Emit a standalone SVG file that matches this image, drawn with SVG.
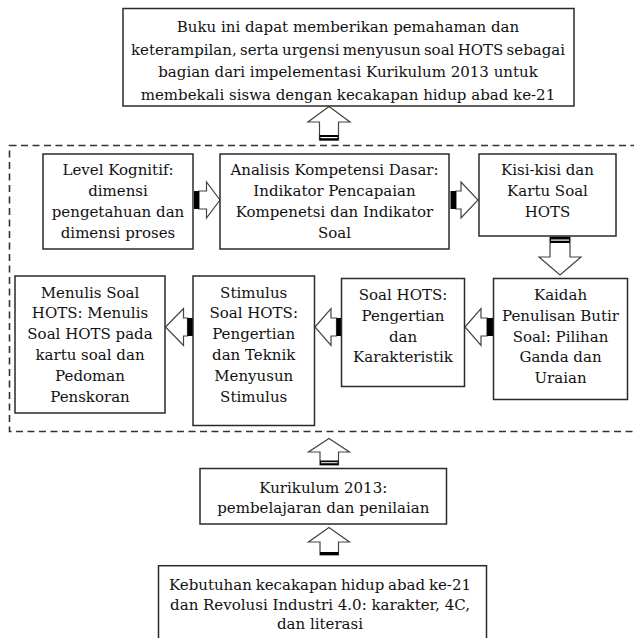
<svg xmlns="http://www.w3.org/2000/svg" width="634" height="638" viewBox="0 0 634 638">
<style>
.box{fill:#fff;stroke:#2a2a2a;stroke-width:1.5}
.t{font-family:"DejaVu Serif","Liberation Serif",serif;font-size:15px;fill:#111;text-anchor:middle}
.arr{fill:#fff;stroke:#444;stroke-width:1.2;stroke-linejoin:miter}
.bar{fill:#000}
.dash{fill:none;stroke:#333;stroke-width:1.6;stroke-dasharray:7 4.5}
</style>
<rect width="634" height="638" fill="#fff"/>
<rect class="dash" x="9.5" y="145.5" width="640" height="286"/>

<g id="connectors">
  <polygon class="arr" points="329,106.5 350,122 338.5,122 338.5,140 319.5,140 319.5,122 308,122"/>
  <rect class="bar" x="319.5" y="135" width="19" height="5.5"/>
  <rect fill="#fff" x="320.5" y="137" width="17" height="1.2"/>
  <polygon class="arr" points="199,191 206.5,191 206.5,182 220,200 206.5,218 206.5,209 199,209"/>
  <rect class="bar" x="194" y="191" width="5" height="18"/>
  <polygon class="arr" points="456,191 461,191 461,182 478,200 461,218 461,209 456,209"/>
  <rect class="bar" x="450.5" y="191" width="5.5" height="18"/>
  <polygon class="arr" points="550,237 570,237 570,257 581,257 560,275 539,257 550,257"/>
  <rect class="bar" x="550" y="237" width="20" height="6"/>
  <rect fill="#fff" x="551" y="239.5" width="18" height="1.2"/>
  <polygon class="arr" points="465,327 481,308.5 481,318 487,318 487,336 481,336 481,345.5"/>
  <rect class="bar" x="487" y="318" width="6" height="18"/>
  <polygon class="arr" points="315,327 331,308.5 331,318 336.5,318 336.5,336 331,336 331,345.5"/>
  <rect class="bar" x="336.5" y="318" width="5" height="18"/>
  <polygon class="arr" points="165.5,327 183.5,308.5 183.5,318 187.5,318 187.5,336 183.5,336 183.5,345.5"/>
  <rect class="bar" x="187.5" y="318" width="5.5" height="18"/>
  <polygon class="arr" points="329,438.5 349.5,452 338.5,452 338.5,465 320,465 320,452 308.5,452"/>
  <rect class="bar" x="320" y="460.5" width="18.5" height="4.5"/>
  <rect fill="#fff" x="321" y="462.2" width="16.5" height="1"/>
  <polygon class="arr" points="329,527.5 349.5,542 338.5,542 338.5,555 320,555 320,542 308.5,542"/>
  <rect class="bar" x="320" y="552" width="18.5" height="3"/>
</g>

<g id="node-top">
  <rect class="box" x="123" y="8.5" width="451" height="97.5"/>
  <text class="t" x="348" y="32">Buku ini dapat memberikan pemahaman dan</text>
  <text class="t" x="348" y="54.5" word-spacing="-1.5">keterampilan, serta urgensi menyusun soal HOTS sebagai</text>
  <text class="t" x="348" y="77">bagian dari impelementasi Kurikulum 2013 untuk</text>
  <text class="t" x="348" y="99.5">membekali siswa dengan kecakapan hidup abad ke-21</text>
</g>

<g id="node-level">
  <rect class="box" x="43" y="154" width="150" height="95"/>
  <text class="t" x="118" y="175">Level Kognitif:</text>
  <text class="t" x="118" y="196">dimensi</text>
  <text class="t" x="118" y="217">pengetahuan dan</text>
  <text class="t" x="118" y="238">dimensi proses</text>
</g>

<g id="node-analisis">
  <rect class="box" x="220" y="154" width="229" height="95"/>
  <text class="t" x="334.5" y="175">Analisis Kompetensi Dasar:</text>
  <text class="t" x="334.5" y="196">Indikator Pencapaian</text>
  <text class="t" x="334.5" y="217">Kompenetsi dan Indikator</text>
  <text class="t" x="334.5" y="238">Soal</text>
</g>

<g id="node-kisi">
  <rect class="box" x="479" y="154" width="137" height="82"/>
  <text class="t" x="547.5" y="175">Kisi-kisi dan</text>
  <text class="t" x="547.5" y="196">Kartu Soal</text>
  <text class="t" x="547.5" y="217">HOTS</text>
</g>

<g id="node-kaidah">
  <rect class="box" x="493.5" y="278.5" width="134" height="121"/>
  <text class="t" x="560.5" y="300">Kaidah</text>
  <text class="t" x="560.5" y="320.8">Penulisan Butir</text>
  <text class="t" x="560.5" y="341.6">Soal: Pilihan</text>
  <text class="t" x="560.5" y="362.4">Ganda dan</text>
  <text class="t" x="560.5" y="383.2">Uraian</text>
</g>

<g id="node-soal">
  <rect class="box" x="341.5" y="278.5" width="123" height="108"/>
  <text class="t" x="403" y="300">Soal HOTS:</text>
  <text class="t" x="403" y="320.8">Pengertian</text>
  <text class="t" x="403" y="341.6">dan</text>
  <text class="t" x="403" y="362.4">Karakteristik</text>
</g>

<g id="node-stimulus">
  <rect class="box" x="193" y="276" width="121.5" height="149.5"/>
  <text class="t" x="253.7" y="297.5">Stimulus</text>
  <text class="t" x="253.7" y="318.3">Soal HOTS:</text>
  <text class="t" x="253.7" y="339.1">Pengertian</text>
  <text class="t" x="253.7" y="359.9">dan Teknik</text>
  <text class="t" x="253.7" y="380.7">Menyusun</text>
  <text class="t" x="253.7" y="401.5">Stimulus</text>
</g>

<g id="node-menulis">
  <rect class="box" x="15" y="276" width="150" height="137"/>
  <text class="t" x="90" y="297.5">Menulis Soal</text>
  <text class="t" x="90" y="318.3">HOTS: Menulis</text>
  <text class="t" x="90" y="339.1">Soal HOTS pada</text>
  <text class="t" x="90" y="359.9">kartu soal dan</text>
  <text class="t" x="90" y="380.7">Pedoman</text>
  <text class="t" x="90" y="401.5">Penskoran</text>
</g>

<g id="node-kurikulum">
  <rect class="box" x="200" y="468.5" width="246.5" height="55.5"/>
  <text class="t" x="323.3" y="492.7">Kurikulum 2013:</text>
  <text class="t" x="323.3" y="512.7">pembelajaran dan penilaian</text>
</g>

<g id="node-kebutuhan">
  <rect class="box" x="158.5" y="565.7" width="328" height="80"/>
  <text class="t" x="320" y="590" word-spacing="-1">Kebutuhan kecakapan hidup abad ke-21</text>
  <text class="t" x="320" y="609.5">dan Revolusi Industri 4.0: karakter, 4C,</text>
  <text class="t" x="320" y="629">dan literasi</text>
</g>
</svg>
